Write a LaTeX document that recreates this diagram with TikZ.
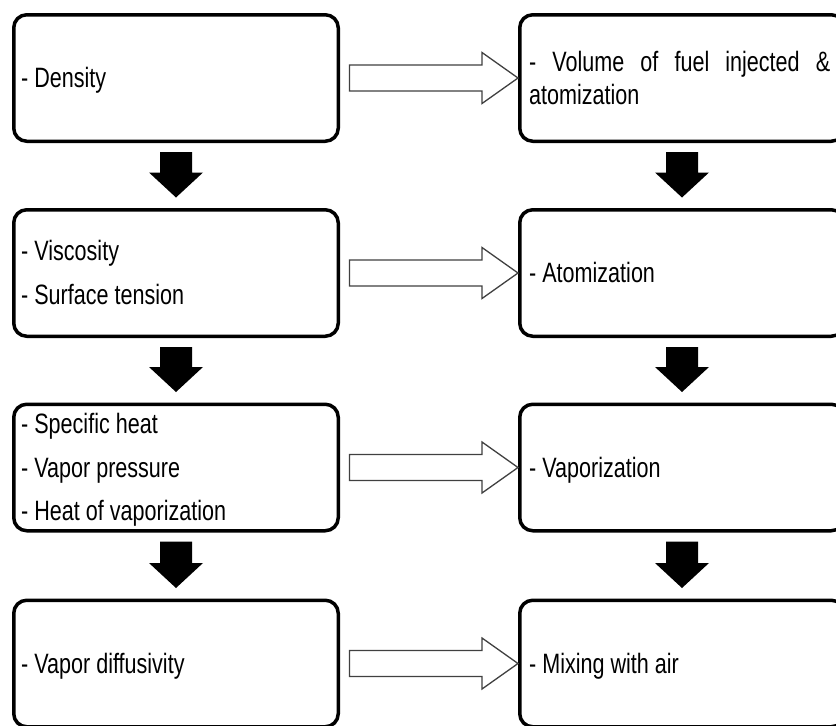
\documentclass[tikz,border=0pt]{standalone}
\usepackage{fontspec}
\setmainfont{Liberation Sans}[FakeStretch=0.77]
\usetikzlibrary{calc}

\tikzset{
  box/.style={draw=black, line width=3.5pt, rounded corners=13pt,
    minimum width=324.5pt, minimum height=126.5pt, inner sep=0pt, fill=white},
  txt/.style={anchor=base west, inner sep=0pt,
    font=\fontsize{28}{33}\selectfont, text=black},
  dropshape/.style={fill=black, draw=none},
  pushshape/.style={fill=white, draw=black!75, line width=1.3pt, line join=miter},
}

% solid black arrow from the bottom of box #1 down to the top of box #2
\newcommand\dropto[2]{%
  \fill[dropshape] ($(#1.south)+(-16,9)$) -- ($(#2.north)+(-16,-35.5)$)
    -- ($(#2.north)+(-27,-35.5)$) -- ($(#2.north)+(0,-10.5)$)
    -- ($(#2.north)+(27,-35.5)$) -- ($(#2.north)+(16,-35.5)$)
    -- ($(#1.south)+(16,9)$) -- cycle;}

% hollow block arrow from box #1 across to box #2
\newcommand\pushto[2]{%
  \draw[pushshape] ($(#1.east)+(9.5,-13)$) -- ($(#2.west)+(-36,-13)$)
    -- ($(#2.west)+(-36,-25.5)$) -- (#2.west)
    -- ($(#2.west)+(-36,25.5)$) -- ($(#2.west)+(-36,13)$)
    -- ($(#1.east)+(9.5,13)$) -- cycle;}

\begin{document}
\begin{tikzpicture}[x=1pt, y=-1pt]
  \useasboundingbox (0,0) rectangle (836,726);
  \fill[white] (0,0) rectangle (836,726);
  \clip (0,0) rectangle (836,726);

  % fuel properties
  \node[box] (b1) at (176,78) {};
  \node[box] (b2) at (176,273) {};
  \node[box] (b3) at (176,467.5) {};
  \node[box] (b4) at (176,663.5) {};

  % processes they govern
  \node[box] (r1) at (682,78) {};
  \node[box] (r2) at (682,273) {};
  \node[box] (r3) at (682,467.5) {};
  \node[box] (r4) at (682,663.5) {};

  \node[txt] (t1) at ($(b1.west)+(9,9.5)$) {- Density};
  \node[txt] (t2a) at ($(b2.west)+(9,-12.25)$) {- Viscosity};
  \node[txt] (t2b) at ($(b2.west)+(9,31.25)$) {- Surface tension};
  \node[txt] (t3a) at ($(b3.west)+(9,-34)$) {- Specific heat};
  \node[txt] (t3b) at ($(b3.west)+(9,9.5)$) {- Vapor pressure};
  \node[txt] (t3c) at ($(b3.west)+(9,53)$) {- Heat of vaporization};
  \node[txt] (t4) at ($(b4.west)+(9,9.5)$) {- Vapor diffusivity};

  \node[txt] (s1a) at ($(r1.west)+(11,-7)$) {\makebox[301pt][s]{- Volume of fuel injected \&}};
  \node[txt] (s1b) at ($(r1.west)+(11,26)$) {atomization};
  \node[txt] (s2) at ($(r2.west)+(11,9.5)$) {- Atomization};
  \node[txt] (s3) at ($(r3.west)+(11,9.5)$) {- Vaporization};
  \node[txt] (s4) at ($(r4.west)+(11,9.5)$) {- Mixing with air};

  \dropto{b1}{b2}
  \dropto{b2}{b3}
  \dropto{b3}{b4}
  \dropto{r1}{r2}
  \dropto{r2}{r3}
  \dropto{r3}{r4}

  \pushto{b1}{r1}
  \pushto{b2}{r2}
  \pushto{b3}{r3}
  \pushto{b4}{r4}
\end{tikzpicture}
\end{document}
